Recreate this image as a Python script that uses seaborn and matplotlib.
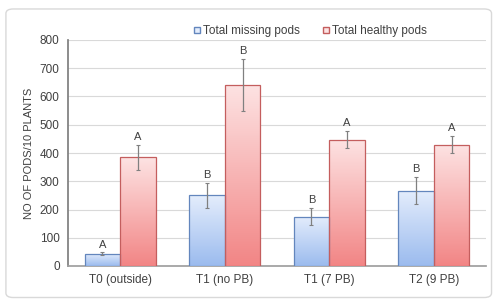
"""Pod counts per treatment, grouped bars with gradient fill."""
import matplotlib.pyplot as plt
import numpy as np
import pandas as pd
import seaborn as sns
from matplotlib.colors import LinearSegmentedColormap
from matplotlib.patches import FancyBboxPatch

TREATMENTS = ["T0 (outside)", "T1 (no PB)", "T1 (7 PB)", "T2 (9 PB)"]
SERIES = ["Total missing pods", "Total healthy pods"]
MISSING = [43, 250, 175, 266]
HEALTHY = [385, 642, 447, 430]
MISSING_ERR = [5, 43, 30, 48]
HEALTHY_ERR = [45, 92, 30, 30]
MISSING_LETTERS = ["A", "B", "B", "B"]
HEALTHY_LETTERS = ["A", "B", "A", "A"]

EDGE = {SERIES[0]: "#6386bd", SERIES[1]: "#c45e5e"}
GRAD = {
    SERIES[0]: ("#e4edfc", "#9bbbee"),
    SERIES[1]: ("#fde3e3", "#f28585"),
}

df = pd.DataFrame({
    "treatment": TREATMENTS * 2,
    "series": [SERIES[0]] * 4 + [SERIES[1]] * 4,
    "value": MISSING + HEALTHY,
    "err": MISSING_ERR + HEALTHY_ERR,
    "letter": MISSING_LETTERS + HEALTHY_LETTERS,
})

sns.set_theme(style="white")
plt.rcParams["font.family"] = ["Liberation Sans", "DejaVu Sans"]

fig = plt.figure(figsize=(4.93, 2.99), dpi=100)
frame = FancyBboxPatch((0.012, 0.005), 0.985, 0.965, boxstyle="round,pad=0,rounding_size=0.015",
                       transform=fig.transFigure, fc="white", ec="#d9d9d9", lw=1.0, zorder=-10)
fig.patches.append(frame)
ax = fig.add_axes([68 / 493, 33 / 299, 418 / 493, 226 / 299])
ax.patch.set_alpha(0)

sns.barplot(data=df, x="treatment", y="value", hue="series", order=TREATMENTS, hue_order=SERIES,
            palette=["#c5d7f5", "#f8b4b4"], width=0.68, gap=0.0, errorbar=None, ax=ax, zorder=2)

# gradient fill and error bars on each bar
for patches, name in zip(ax.containers, SERIES):
    sub = df[df["series"] == name].reset_index(drop=True)
    cmap = LinearSegmentedColormap.from_list(name, [GRAD[name][1], GRAD[name][0]])
    for i, bar in enumerate(patches):
        x0, w, h = bar.get_x(), bar.get_width(), bar.get_height()
        bar.set_facecolor("none")
        bar.set_edgecolor(EDGE[name])
        bar.set_linewidth(0.9)
        bar.set_zorder(4)
        grad = np.linspace(0, 1, 256).reshape(-1, 1)
        im = ax.imshow(grad, cmap=cmap, origin="lower", aspect="auto",
                       extent=[x0, x0 + w, 0, h], zorder=3)
        im.set_clip_path(bar)
        xc = x0 + w / 2
        ax.errorbar(xc, h, yerr=sub.loc[i, "err"], fmt="none", ecolor="#808080",
                    elinewidth=0.9, capsize=1.5, capthick=0.8, zorder=5)
        ax.text(xc, h + sub.loc[i, "err"] + 10, sub.loc[i, "letter"], ha="center", va="bottom",
                fontsize=8, color="#404040", zorder=6)

ax.set_xlim(-0.5, 3.5)
ax.set_ylim(0, 800)
ax.set_yticks(range(0, 801, 100))
ax.yaxis.grid(True, color="#d9d9d9", lw=0.8, zorder=0)
ax.set_axisbelow(True)
for side in ["top", "right"]:
    ax.spines[side].set_visible(False)
ax.spines["left"].set_color("#7f7f7f")
ax.spines["bottom"].set_color("#9f9f9f")
ax.tick_params(axis="both", labelsize=8.5, colors="#404040", length=0, pad=6)
ax.set_xlabel("")
ax.set_ylabel("NO OF PODS/10 PLANTS", fontsize=8, color="#404040", labelpad=4)

handles, labels = ax.get_legend_handles_labels()
for hnd, name in zip(handles, SERIES):
    hnd.set_facecolor(GRAD[name][0])
    hnd.set_edgecolor(EDGE[name])
ax.legend(handles, labels, loc="lower center", bbox_to_anchor=(0.58, 0.965), ncol=2, frameon=False,
          fontsize=8.5, handlelength=0.5, handleheight=0.5, handletextpad=0.2, columnspacing=2.0,
          labelcolor="#404040")

fig.savefig("out.png", dpi=100)
